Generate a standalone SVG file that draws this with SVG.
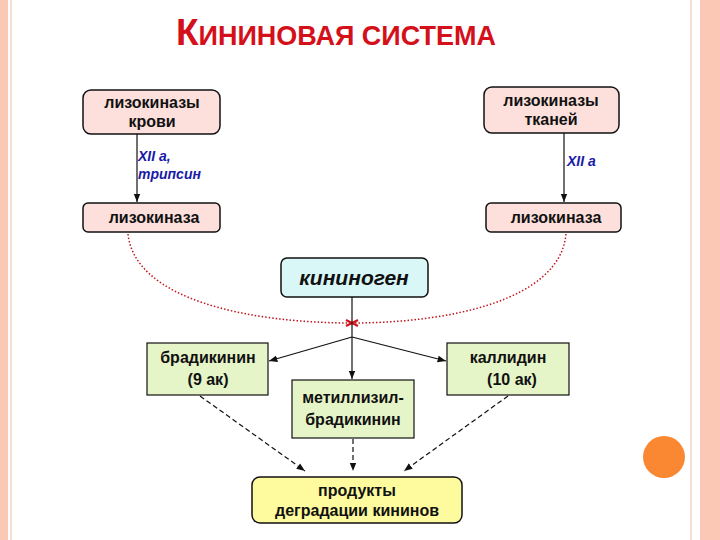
<svg xmlns="http://www.w3.org/2000/svg" width="720" height="540" viewBox="0 0 720 540">
<style>
text{font-family:"Liberation Sans",Arial,sans-serif;font-weight:bold;fill:#111;text-anchor:middle}
.pink{fill:#fde0dc;stroke:#111;stroke-width:1.5}
.green{fill:#e6f5c8;stroke:#111;stroke-width:1.2}
.ln{stroke:#111;stroke-width:1.2;fill:none}
.dash{stroke:#111;stroke-width:1.2;fill:none;stroke-dasharray:5,3}
.dot{stroke:#c0141c;stroke-width:1.5;fill:none;stroke-dasharray:1.5,2}
.lab{fill:#1a1aa8;font-style:italic;text-anchor:start;font-size:14px}
</style>
<defs>
<marker id="a" viewBox="0 0 10 10" refX="10" refY="5" markerWidth="7" markerHeight="7" orient="auto"><path d="M0,1 L10,5 L0,9 Z" fill="#111"/></marker>
</defs>
<rect width="720" height="540" fill="#fff"/>
<rect x="0" y="0" width="8" height="540" fill="#fcc8b6"/>
<line x1="11" y1="0" x2="11" y2="540" stroke="#f5d2c4" stroke-width="1.5"/>
<line x1="691" y1="0" x2="691" y2="540" stroke="#f5d2c4" stroke-width="1.5"/>
<rect x="700" y="0" width="20" height="540" fill="#fcc8b6"/>
<circle cx="664" cy="457" r="21" fill="#fa8732"/>
<text x="336" y="45" style="fill:#d4101a;font-size:27px"><tspan font-size="37">К</tspan>ИНИНОВАЯ СИСТЕМА</text>
<g id="connectors">
<line class="ln" x1="137" y1="134" x2="137" y2="202" marker-end="url(#a)"/>
<line class="ln" x1="564" y1="133" x2="564" y2="202" marker-end="url(#a)"/>
<path class="dot" d="M128,234 C135,300 250,323 352,323"/>
<path class="dot" d="M566,234 C560,300 450,323 352,323"/>
<path d="M346,320 L358,326 M346,326 L358,320" stroke="#d4101a" stroke-width="2"/>
<line class="ln" x1="352" y1="297" x2="352" y2="379" marker-end="url(#a)"/>
<line class="ln" x1="352" y1="337" x2="269" y2="361" marker-end="url(#a)"/>
<line class="ln" x1="352" y1="337" x2="446" y2="361" marker-end="url(#a)"/>
<line class="dash" x1="200" y1="396" x2="305" y2="471" marker-end="url(#a)"/>
<line class="dash" x1="353" y1="439" x2="353" y2="471" marker-end="url(#a)"/>
<line class="dash" x1="508" y1="396" x2="404" y2="471" marker-end="url(#a)"/>
<text class="lab" x="138" y="161">XII a,</text>
<text class="lab" x="138" y="179">трипсин</text>
<text class="lab" x="567" y="166">XII a</text>
</g>
<g id="n1"><rect class="pink" x="83" y="90" width="137" height="44" rx="8"/><text x="152" y="108" font-size="16">лизокиназы</text><text x="152" y="127" font-size="16">крови</text></g>
<g id="n2"><rect class="pink" x="484" y="87" width="135" height="46" rx="8"/><text x="551" y="106" font-size="16">лизокиназы</text><text x="551" y="125" font-size="16">тканей</text></g>
<g id="n3"><rect class="pink" x="83" y="203" width="137" height="29" rx="5"/><text x="154" y="223" font-size="16">лизокиназа</text></g>
<g id="n4"><rect class="pink" x="486" y="203" width="135" height="29" rx="5"/><text x="556" y="223" font-size="16">лизокиназа</text></g>
<g id="n5"><rect x="281" y="258" width="147" height="39" rx="6" fill="#d9f7f7" stroke="#111" stroke-width="1.5"/><text x="354" y="285" font-size="21" font-style="italic">кининоген</text></g>
<g id="n6"><rect class="green" x="147" y="343" width="121" height="52"/><text x="208" y="363" font-size="16">брадикинин</text><text x="208" y="385" font-size="16">(9 ак)</text></g>
<g id="n7"><rect class="green" x="447" y="343" width="122" height="52"/><text x="508" y="363" font-size="16">каллидин</text><text x="512" y="385" font-size="16">(10 ак)</text></g>
<g id="n8"><rect class="green" x="292" y="380" width="122" height="58"/><text x="353" y="403" font-size="16">метиллизил-</text><text x="353" y="425" font-size="16">брадикинин</text></g>
<g id="n9"><rect x="252" y="477" width="210" height="46" rx="8" fill="#fdfb9e" stroke="#111" stroke-width="1.5"/><text x="357" y="496" font-size="16">продукты</text><text x="357" y="516" font-size="16">деградации кининов</text></g>
</svg>
